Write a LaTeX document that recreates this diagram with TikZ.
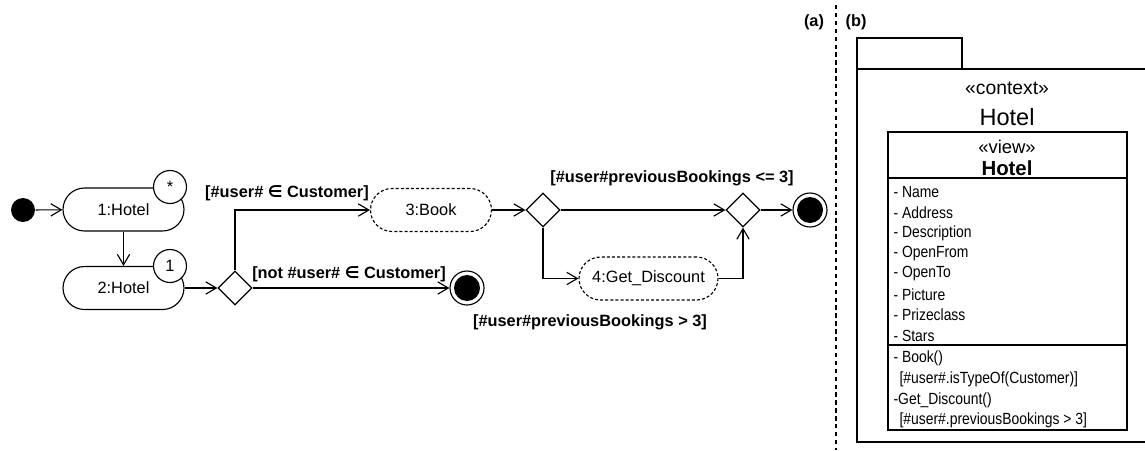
\documentclass[tikz,border=0pt]{standalone}
\usepackage{amsmath, amsfonts, amssymb}
\usepackage{fontspec}
\setmainfont{Liberation Sans}
\newfontfamily\narrowsf[FakeStretch=0.86]{Liberation Sans}
\newfontfamily\symsf{DejaVu Sans}
\newcommand{\isin}{{\symsf\bfseries ∈}}
\usetikzlibrary{arrows.meta, shapes.geometric}

\begin{document}
\begin{tikzpicture}[x=0.02cm, y=-0.02cm, line width=0.65pt,
  font=\fontsize{9.3}{11}\selectfont,
  arr/.style={-{Straight Barb[length=6pt, width=7pt]}},
  action/.style={draw, rectangle, rounded corners=0.43cm, minimum width=2.42cm, minimum height=0.86cm, inner sep=0},
  multi/.style={draw, circle, fill=white, minimum size=0.66cm, inner sep=0},
  choice/.style={draw, diamond, aspect=1, minimum width=0.68cm, minimum height=0.68cm, inner sep=0},
  startnode/.style={circle, fill=black, minimum size=0.48cm, inner sep=0},
  endnode/.style={draw, circle, minimum size=0.68cm, inner sep=0,
    path picture={\fill (path picture bounding box.center) circle (0.26cm);}},
  guard/.style={font=\fontsize{9.3}{11}\selectfont\bfseries, inner sep=0},
  attr/.style={anchor=west, inner sep=0, font=\fontsize{9.2}{11}\narrowsf}]
\useasboundingbox (0,0) rectangle (1145,450);

\node[startnode] (start) at (23,210) {};
\node[action] (h1) at (123.5,209.5) {1:Hotel};
\node[multi] (m1) at (170,187) {*};
\node[action] (h2) at (123.5,288) {2:Hotel};
\node[multi] (m2) at (170,266) {1};
\node[choice] (d1) at (235,288) {};
\node[action, dashed, dash pattern=on 1.7pt off 1.2pt] (book) at (431,210) {3:Book};
\node[endnode] (end1) at (467,288) {};
\node[choice] (d2) at (543,210) {};
\node[action, dashed, dash pattern=on 1.7pt off 1.2pt, minimum width=2.78cm] (disc) at (648.5,278.5) {4:Get\_Discount};
\node[choice] (d3) at (743,210) {};
\node[endnode] (end2) at (810,210) {};

\draw[arr] (start) -- (h1);
\draw[arr] (h1.south) -- (h2.north);
\draw[arr] (h2) -- (d1);
\draw[arr] (d1.north) |- (book.west);
\draw[arr] (d1) -- (end1);
\draw[arr] (book) -- (d2);
\draw[arr] (d2) -- (d3);
\draw[arr] (d3) -- (end2);
\draw[arr] (d2.south) |- (disc.west);
\draw[arr] (disc.east) -| (d3.south);

\node[guard] (g1) at (287,193) {[\#user\# \isin\ Customer]};
\node[guard] (g2) at (349,274) {[not \#user\# \isin\ Customer]};
\node[guard] (g3) at (672,178) {[\#user\#previousBookings <= 3]};
\node[guard] (g4) at (590,322) {[\#user\#previousBookings > 3]};

\node[guard] (la) at (814,22) {(a)};
\node[guard] (lb) at (856,22) {(b)};
\draw[dash pattern=on 2.5pt off 2pt] (836,5) -- (836,450);

\draw (857,69) rectangle (962,38);
\draw (1150,69) -- (857,69) -- (857,442) -- (1150,442);
\node (ctx) at (1007,88) {\fontsize{11}{13}\selectfont «context»};
\node (ctxname) at (1007,117) {\fontsize{13.4}{15}\selectfont Hotel};

\draw (888,132) rectangle (1127,430);
\draw (888,178) -- (1127,178);
\draw (888,345) -- (1127,345);
\node (view) at (1007,147) {\fontsize{10.5}{13}\selectfont «view»};
\node (viewname) at (1007,168) {\fontsize{11.6}{13}\selectfont\bfseries Hotel};

\foreach \a [count=\i from 0] in {Name, Address, Description, OpenFrom, OpenTo, Picture, Prizeclass, Stars}
  \node[attr] (a\i) at (893,192+20.5*\i) {- \a};
\node[attr] (op1) at (893,358) {- Book()};
\node[attr] (op1g) at (899,379) {[\#user\#.isTypeOf(Customer)]};
\node[attr] (op2) at (893,400) {-Get\_Discount()};
\node[attr] (op2g) at (899,420) {[\#user\#.previousBookings > 3]};
\end{tikzpicture}
\end{document}
